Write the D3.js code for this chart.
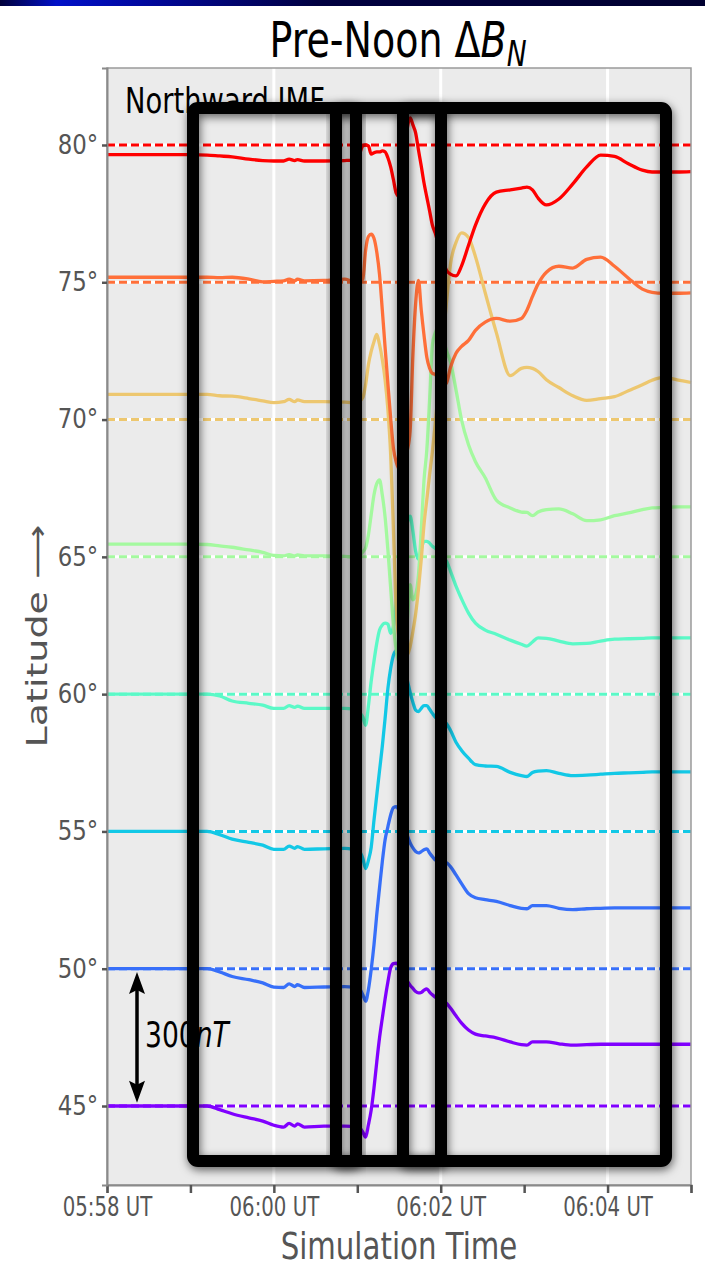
<!DOCTYPE html>
<html>
<head>
<meta charset="utf-8">
<script src="https://cdn.jsdelivr.net/npm/d3@7"></script>
<style>
  body { margin: 0; background: #fff; }
  svg { display: block; font-family: "DejaVu Sans", sans-serif; }
</style>
</head>
<body>
<svg id="chart" width="705" height="1266"></svg>
<script>
// station latitudes and their (matplotlib rainbow) colours
const stations = [45, 50, 55, 60, 65, 70, 75, 80];
const colors = ["#8000ff", "#376ff9", "#12c8e6", "#5bf9c7", "#a4f99f", "#edc76f", "#ff6f39", "#ff0000"];

// seconds after 05:58:00 UT
const seconds = [0, 60, 72, 81, 90, 102, 112, 120, 127, 131, 135, 137, 142, 156, 171, 177, 181, 184, 186, 188,
  190, 192, 194, 196, 198, 200, 202, 204, 206, 208, 210, 212, 214, 216, 218, 220, 222, 224, 226, 228,
  230, 232, 234, 236, 238, 240, 242, 244, 247, 251, 255, 260, 265, 272, 280, 290, 298, 302, 306, 310,
  316, 325, 335, 345, 355, 365, 375, 385, 392, 400, 410, 420];

// delta B_N (nT) per station, same length as seconds
const dB45 = [0, 0, 0, -8, -17, -26, -33, -42, -46, -38, -44, -39, -46, -44, -44, -45, -46, -57, -68, -41,
  -9, 39, 96, 149, 192, 234, 271, 302, 311, 312, 306, 295, 284, 273, 264, 257, 250, 247, 248, 253,
  256, 249, 243, 238, 235, 232, 228, 225, 214, 197, 181, 166, 157, 153, 149, 140, 134, 133, 140, 140,
  140, 136, 133, 134, 135, 135, 135, 135, 135, 135, 135, 135];
const dB50 = [0, 0, 0, -7, -17, -24, -31, -40, -41, -33, -39, -35, -41, -40, -39, -40, -42, -57, -71, -46,
  -2, 52, 118, 177, 234, 282, 310, 336, 352, 354, 347, 334, 317, 291, 275, 264, 256, 253, 256, 260,
  262, 253, 245, 238, 236, 234, 233, 232, 223, 205, 186, 164, 155, 151, 147, 138, 132, 131, 138, 138,
  138, 132, 129, 131, 132, 133, 133, 133, 133, 133, 133, 133];
const dB55 = [0, 0, 0, -7, -17, -24, -30, -39, -39, -32, -37, -33, -39, -38, -37, -39, -42, -59, -81, -63,
  -35, 24, 79, 133, 186, 247, 312, 356, 385, 395, 391, 378, 356, 330, 304, 282, 265, 262, 269, 275,
  275, 267, 258, 250, 246, 243, 240, 236, 221, 195, 177, 160, 146, 143, 142, 129, 122, 120, 129, 132,
  133, 127, 122, 123, 125, 127, 128, 129, 130, 130, 130, 130];
const dB60 = [0, 0, 0, -4, -15, -20, -24, -31, -31, -25, -29, -26, -31, -31, -31, -33, -39, -50, -68, -26,
  28, 72, 111, 140, 151, 155, 153, 133, 149, 203, 247, 291, 334, 374, 389, 356, 312, 295, 317, 334,
  334, 330, 323, 319, 312, 306, 297, 291, 269, 236, 208, 177, 155, 140, 131, 118, 109, 105, 114, 123,
  122, 116, 110, 111, 116, 120, 121, 122, 123, 123, 123, 123];
const dB65 = [28, 28, 27, 24, 21, 15, 10, 3, 2, 5, 2, 4, 2, 2, 1, 0, 2, 11, 20, 48,
  92, 135, 160, 168, 135, 87, 15, -68, -149, -203, -229, -225, -192, -138, -61, -94, -83, -39, 59, 168,
  234, 343, 463, 489, 500, 491, 474, 452, 426, 365, 299, 245, 208, 173, 124, 107, 98, 97, 90, 98,
  103, 105, 94, 79, 81, 90, 96, 103, 107, 108, 109, 109];
const dB70 = [55, 55, 55, 52, 51, 46, 41, 37, 39, 44, 39, 43, 39, 39, 38, 37, 39, 48, 76, 120,
  149, 170, 186, 164, 131, 87, 22, -76, -240, -415, -481, -507, -518, -514, -496, -463, -424, -371, -306, -229,
  -175, -120, -70, -11, 55, 120, 186, 251, 339, 387, 408, 398, 356, 277, 190, 96, 112, 114, 112, 105,
  87, 70, 52, 42, 46, 50, 63, 76, 86, 92, 87, 81];
const dB75 = [11, 11, 11, 10, 11, 7, 1, 2, 3, 7, 3, 7, 3, 4, 7, 2, 2, 7, 70, 100,
  105, 96, 66, 17, -61, -142, -221, -297, -363, -393, -408, -404, -389, -367, -324, -159, -45, 4, -61, -116,
  -164, -188, -199, -201, -210, -219, -223, -221, -186, -155, -140, -127, -105, -87, -79, -85, -79, -61, -31, -4,
  22, 35, 31, 50, 55, 35, 9, -15, -22, -24, -24, -23];
const dB80 = [-21, -21, -22, -24, -26, -31, -34, -35, -35, -31, -34, -32, -35, -35, -34, -33, -24, -2, 0, -2,
  -20, -17, -15, -15, -13, -15, -28, -48, -76, -105, -112, -76, -15, 37, 59, 44, 26, -11, -46, -83,
  -114, -144, -175, -192, -214, -236, -256, -273, -282, -286, -264, -219, -175, -129, -103, -98, -94, -92, -98, -116,
  -131, -118, -85, -48, -22, -25, -41, -55, -59, -59, -59, -58];

const series = [dB45, dB50, dB55, dB60, dB65, dB70, dB75, dB80];
const nTperDeg = 60;          // 300 nT drawn as 5 degrees
const xTickSeconds = [0, 60, 120, 180, 240, 300, 360, 420];

const W = 705, H = 1266;
const margin = { left: 107, right: 14, top: 68, bottom: 81 };
const svg = d3.select("#chart");
const start = Date.UTC(2000, 0, 1, 5, 58);
const toDate = s => new Date(start + s * 1000);

const x = d3.scaleUtc()
  .domain([toDate(0), toDate(420)])
  .range([margin.left, W - margin.right]);
const y = d3.scaleLinear()
  .domain([42.123, 82.804])
  .range([H - margin.bottom, margin.top]);

const defs = svg.append("defs");
const grad = defs.append("linearGradient").attr("id", "band");
[["0%", "#00003a"], ["8%", "#0010c8"], ["20%", "#0008a0"], ["45%", "#000040"], ["100%", "#000030"]]
  .forEach(([o, c]) => grad.append("stop").attr("offset", o).attr("stop-color", c));
defs.append("filter").attr("id", "shadow")
  .attr("x", "-50%").attr("y", "-5%").attr("width", "200%").attr("height", "110%")
  .append("feDropShadow")
  .attr("dx", 1).attr("dy", 3).attr("stdDeviation", 5)
  .attr("flood-color", "#000").attr("flood-opacity", 0.6);

svg.append("rect").attr("width", W).attr("height", 6).attr("fill", "url(#band)");

// axes background
svg.append("rect")
  .attr("x", margin.left).attr("y", margin.top)
  .attr("width", W - margin.left - margin.right)
  .attr("height", H - margin.top - margin.bottom)
  .attr("fill", "#ebebeb");

// white grid
svg.append("g").selectAll("line")
  .data([120, 240, 360])
  .join("line")
  .attr("x1", d => x(toDate(d))).attr("x2", d => x(toDate(d)))
  .attr("y1", margin.top).attr("y2", H - margin.bottom)
  .attr("stroke", "#fff").attr("stroke-width", 3);
svg.append("g").selectAll("line")
  .data(stations)
  .join("line")
  .attr("x1", margin.left).attr("x2", W - margin.right)
  .attr("y1", d => y(d)).attr("y2", d => y(d))
  .attr("stroke", "#fff").attr("stroke-width", 3);

// baselines
svg.append("g").selectAll("line")
  .data(stations)
  .join("line")
  .attr("x1", margin.left).attr("x2", W - margin.right)
  .attr("y1", d => y(d)).attr("y2", d => y(d))
  .attr("stroke", (d, i) => colors[i])
  .attr("stroke-width", 3)
  .attr("stroke-dasharray", "8,4");

// traces
const line = d3.line()
  .x(d => x(toDate(d[0])))
  .y(d => y(d[1]))
  .curve(d3.curveMonotoneX);

series.forEach((vals, i) => {
  const pts = seconds.map((s, j) => [s, stations[i] + vals[j] / nTperDeg]);
  svg.append("path")
    .datum(pts)
    .attr("d", line)
    .attr("fill", "none")
    .attr("stroke", colors[i])
    .attr("stroke-width", 3.3)
    .attr("stroke-linejoin", "round");
});

// frame
svg.append("rect")
  .attr("x", margin.left).attr("y", margin.top)
  .attr("width", W - margin.left - margin.right)
  .attr("height", H - margin.top - margin.bottom)
  .attr("fill", "none").attr("stroke", "#9a9a9a").attr("stroke-width", 1.5);

// axes
const xAxis = svg.append("g")
  .attr("transform", `translate(0,${H - margin.bottom})`)
  .call(d3.axisBottom(x)
    .tickValues(xTickSeconds.map(toDate))
    .tickSize(8)
    .tickPadding(5)
    .tickFormat((d, i) => xTickSeconds[i] % 120 === 0 && xTickSeconds[i] < 420 ? d3.utcFormat("%H:%M UT")(d) : ""));
const yAxis = svg.append("g")
  .attr("transform", `translate(${margin.left},0)`)
  .call(d3.axisLeft(y)
    .tickValues(stations)
    .tickSize(5)
    .tickPadding(5)
    .tickFormat(d => d + "°"));

[xAxis, yAxis].forEach(g => {
  g.select(".domain").attr("stroke", "#8a8a8a").attr("stroke-width", 2);
  g.selectAll(".tick line").attr("stroke", "#555").attr("stroke-width", 2.5);
  g.selectAll(".tick text")
    .attr("fill", "#555")
    .attr("font-size", 26)
    .attr("font-family", "DejaVu Sans");
});
xAxis.selectAll(".tick text").attr("transform", "scale(0.76,1)");
yAxis.selectAll(".tick text").attr("transform", "scale(0.88,1)");

// title
const title = svg.append("text")
  .attr("transform", "translate(398,57) scale(0.76,1)")
  .attr("text-anchor", "middle")
  .attr("font-size", 50)
  .attr("fill", "#000");
title.append("tspan").text("Pre-Noon Δ");
title.append("tspan").attr("font-style", "italic").text("B");
title.append("tspan").attr("font-style", "italic").attr("font-size", 35).attr("dy", 9).text("N");

// axis labels
svg.append("text")
  .attr("transform", `translate(${(margin.left + W - margin.right) / 2},1258.5) scale(0.77,1)`)
  .attr("text-anchor", "middle")
  .attr("font-size", 38)
  .attr("fill", "#555")
  .text("Simulation Time");
svg.append("text")
  .attr("transform", "translate(47,636) rotate(-90) scale(1,0.76)")
  .attr("text-anchor", "middle")
  .attr("font-size", 38)
  .attr("fill", "#555")
  .text("Latitude ⟶");

// annotations
svg.append("text")
  .attr("transform", "translate(125,113) scale(0.76,1)")
  .attr("font-size", 36)
  .attr("fill", "#000")
  .text("Northward IMF");

const arrowX = 137;
const yTop = y(49.88), yBot = y(45.12);
svg.append("line")
  .attr("x1", arrowX).attr("x2", arrowX)
  .attr("y1", yTop + 15).attr("y2", yBot - 15)
  .attr("stroke", "#000").attr("stroke-width", 3.5);
svg.append("path")
  .attr("d", `M${arrowX},${yTop} l-8,22 l8,-4 l8,4 Z M${arrowX},${yBot} l-8,-22 l8,4 l8,-4 Z`)
  .attr("fill", "#000");
const nt = svg.append("text")
  .attr("transform", "translate(145,1047) scale(0.76,1)")
  .attr("font-size", 35)
  .attr("fill", "#000");
nt.append("tspan").text("300");
nt.append("tspan").attr("font-style", "italic").text("nT");

// black highlight frames
const frames = [
  { x: 193, y: 108, w: 473, h: 1053 },
  { x: 336, y: 108, w: 20, h: 1053 },
  { x: 403, y: 108, w: 38, h: 1053 }
];
svg.append("g").selectAll("rect")
  .data(frames)
  .join("rect")
  .attr("x", d => d.x).attr("y", d => d.y)
  .attr("width", d => d.w).attr("height", d => d.h)
  .attr("rx", 5)
  .attr("fill", "none")
  .attr("stroke", "#000")
  .attr("stroke-width", 12)
  .attr("filter", "url(#shadow)");
</script>
</body>
</html>
